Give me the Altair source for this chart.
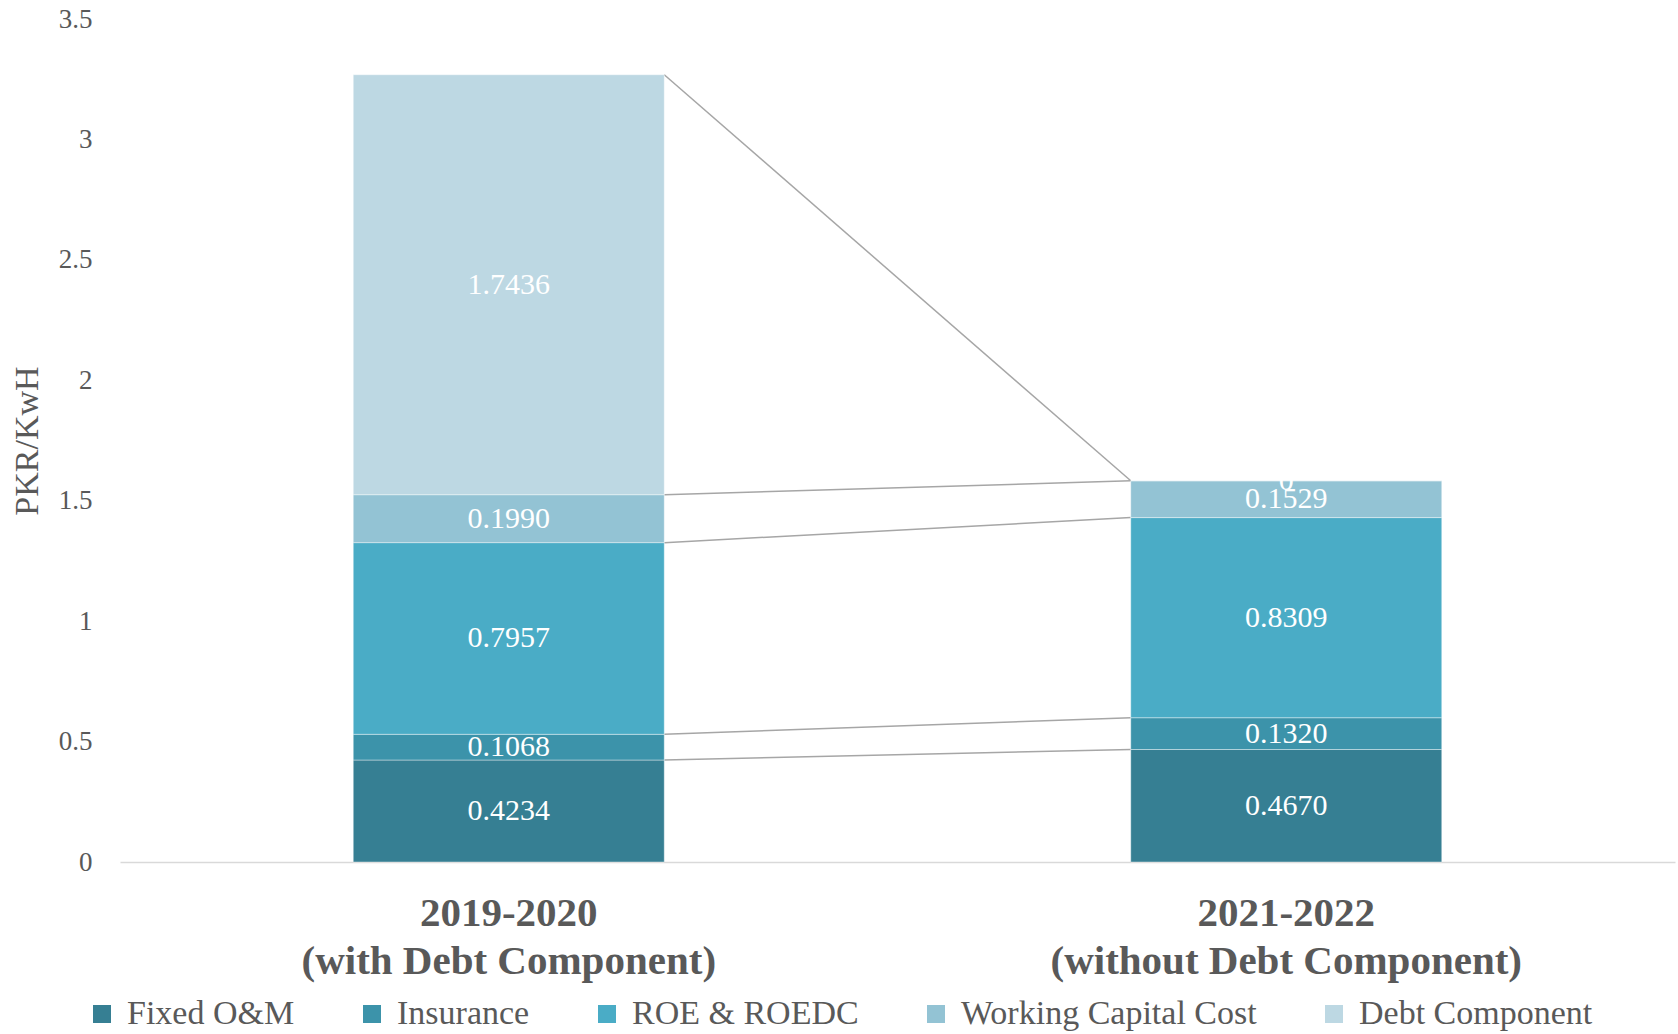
import altair as alt
import pandas as pd

# ---- data ----
categories = ["2019-2020\n(with Debt Component)", "2021-2022\n(without Debt Component)"]
series = ["Fixed O&M", "Insurance", "ROE & ROEDC", "Working Capital Cost", "Debt Component"]
values_2019 = [0.4234, 0.1068, 0.7957, 0.1990, 1.7436]
values_2021 = [0.4670, 0.1320, 0.8309, 0.1529, 0.0]
colors = ["#367F93", "#3C93AA", "#4AACC6", "#93C3D4", "#BDD8E3"]
y_ticks = [0, 0.5, 1, 1.5, 2, 2.5, 3, 3.5]

rows = []
for cat, vals in zip(categories, [values_2019, values_2021]):
    base = 0.0
    for i, (s, v) in enumerate(zip(series, vals)):
        rows.append(dict(category=cat, series=s, order=i, value=v,
                         y0=base, y1=base + v, mid=base + v / 2,
                         label=(f"{v:.4f}" if v else "0")))
        base += v
df = pd.DataFrame(rows)

conn = pd.DataFrame({
    "from": [categories[0]] * len(series),
    "to": [categories[1]] * len(series),
    "ya": df[df.category == categories[0]].y1.values,
    "yb": df[df.category == categories[1]].y1.values,
})

font = "Liberation Serif"
grey = "#595959"
xscale = alt.Scale(domain=categories, paddingInner=0.6, paddingOuter=0.3)
yscale = alt.Scale(domain=[0, 3.5], nice=False, zero=True)

xaxis = alt.Axis(
    title=None, labelExpr="split(datum.label, '\\n')",
    labelFont=font, labelFontSize=41, labelFontWeight="bold", labelColor=grey,
    labelAngle=0, labelLineHeight=48, labelPadding=31, labelBaseline="top",
    ticks=False, domainColor="#D9D9D9", domainWidth=1.3, grid=False, labelLimit=700,
)
yaxis = alt.Axis(
    title="PKR/KwH", values=y_ticks, format="~g", grid=False, domain=False, ticks=False,
    labelFont=font, labelFontSize=27, labelColor=grey, labelPadding=28,
    titleFont=font, titleFontSize=34, titleFontWeight="normal", titleColor=grey,
    titleX=-93, titleY=421.5, titleAngle=-90, titleAlign="center", titleBaseline="middle",
)

rules = alt.Chart(conn).mark_rule(color="#A6A6A6", strokeWidth=1.5).encode(
    x=alt.X("from:N", bandPosition=1, scale=xscale, sort=categories, axis=xaxis),
    x2=alt.X2("to:N", bandPosition=0),
    y=alt.Y("ya:Q", scale=yscale, axis=yaxis),
    y2="yb:Q",
)

bars = alt.Chart(df).mark_bar(stroke="white", strokeWidth=0.8, strokeOpacity=0.5).encode(
    x=alt.X("category:N", scale=xscale, sort=categories, axis=xaxis),
    y=alt.Y("y0:Q", scale=yscale, axis=yaxis),
    y2="y1:Q",
    color=alt.Color(
        "series:N",
        scale=alt.Scale(domain=series, range=colors),
        legend=alt.Legend(
            title=None, orient="none", legendX=-35, legendY=978,
            direction="horizontal", columns=5, symbolType="square",
            symbolSize=324, symbolStrokeWidth=0, labelFont=font,
            labelFontSize=34, labelColor=grey, columnPadding=60,
            labelOffset=8, labelLimit=400,
        ),
    ),
    order=alt.Order("order:Q"),
)

labels = alt.Chart(df).mark_text(color="white", font=font, fontSize=30, baseline="middle").encode(
    x=alt.X("category:N", scale=xscale, sort=categories, axis=xaxis),
    y=alt.Y("mid:Q", scale=yscale, axis=yaxis),
    text="label:N",
)

chart = alt.layer(rules, bars, labels).properties(
    width=1555, height=843,
    autosize=alt.AutoSizeParams(type="none"),
    padding={"left": 120, "top": 19, "right": 3, "bottom": 172},
).configure_view(stroke=None)

chart.save("out.html", embed_options={"renderer": "svg", "actions": False})
